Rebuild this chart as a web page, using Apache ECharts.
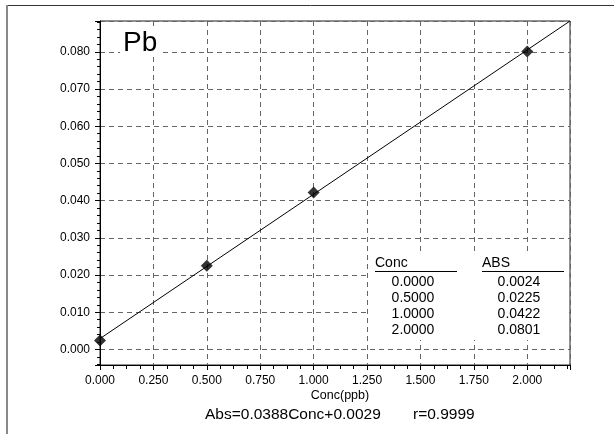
<!DOCTYPE html>
<html>
<head>
<meta charset="utf-8">
<script src="https://cdn.jsdelivr.net/npm/echarts@6/dist/echarts.min.js"></script>
<style>
html,body{margin:0;padding:0;background:#fff;}
#chart{width:614px;height:434px;}
</style>
</head>
<body>
<div id="chart"></div>
<script>
// ---- data ----
const concs = [0.0, 0.5, 1.0, 2.0];
const absVals = [0.0024, 0.0225, 0.0422, 0.0801];
const fitX = [0.0, 2.2];
const fitY = [0.0029, 0.0883];
const elementName = 'Pb';
const xAxisTitle = 'Conc(ppb)';
const equationText = 'Abs=0.0388Conc+0.0029';
const rText = 'r=0.9999';
const tableHeaders = ['Conc', 'ABS'];
const xMin = 0, xMax = 2.2, xStep = 0.25;
const yMin = -0.0042, yMax = 0.0883, yStep = 0.01;

const FONT = 'Liberation Sans, Arial, sans-serif';
const chart = echarts.init(document.getElementById('chart'), null, {renderer: 'canvas'});

const isMult = (v, s) => Math.abs(v / s - Math.round(v / s)) < 1e-6;

const tableGraphics = [];
const rowY0 = 282, rowDy = 16;
tableGraphics.push({type: 'rect', shape: {x: 370, y: 252, width: 199, height: 88}, style: {fill: '#fff'}, z: 50});
tableGraphics.push({type: 'text', x: 375, y: 263, style: {text: tableHeaders[0], font: '14px ' + FONT, fill: '#000', textVerticalAlign: 'middle'}, z: 51});
tableGraphics.push({type: 'text', x: 482, y: 263, style: {text: tableHeaders[1], font: '14px ' + FONT, fill: '#000', textVerticalAlign: 'middle'}, z: 51});
tableGraphics.push({type: 'line', shape: {x1: 375, y1: 271.5, x2: 457, y2: 271.5}, style: {stroke: '#000', lineWidth: 1}, z: 51});
tableGraphics.push({type: 'line', shape: {x1: 482, y1: 271.5, x2: 564, y2: 271.5}, style: {stroke: '#000', lineWidth: 1}, z: 51});
concs.forEach((c, i) => {
  tableGraphics.push({type: 'text', x: 413, y: rowY0 + i * rowDy, style: {text: c.toFixed(4), font: '14px ' + FONT, fill: '#000', textAlign: 'center', textVerticalAlign: 'middle'}, z: 51});
  tableGraphics.push({type: 'text', x: 519, y: rowY0 + i * rowDy, style: {text: absVals[i].toFixed(4), font: '14px ' + FONT, fill: '#000', textAlign: 'center', textVerticalAlign: 'middle'}, z: 51});
});

const option = {
  backgroundColor: '#fff',
  animation: false,
  grid: {left: 100, top: 21, width: 470, height: 344, show: true, borderColor: '#222', borderWidth: 1, backgroundColor: 'transparent', containLabel: false},
  title: {
    text: elementName, left: 120, top: 27, padding: [2, 3, 0, 3], backgroundColor: '#fff',
    textStyle: {fontSize: 28, fontWeight: 'normal', fontFamily: FONT, color: '#000'}, z: 20
  },
  xAxis: {
    type: 'value', min: xMin, max: xMax, interval: xStep,
    axisLine: {show: true, onZero: false, lineStyle: {color: '#000', width: 1}},
    axisTick: {show: true, inside: false, length: 5, lineStyle: {color: '#000'}},
    minorTick: {show: true, splitNumber: 4, length: 4, lineStyle: {color: '#000'}},
    axisLabel: {margin: 10, fontSize: 12, fontFamily: FONT, color: '#000', formatter: v => isMult(v, xStep) ? v.toFixed(3) : ''},
    splitLine: {show: true, lineStyle: {color: '#666', width: 1, type: [5, 4]}}
  },
  yAxis: {
    type: 'value', min: yMin, max: yMax, minInterval: yStep, maxInterval: yStep, splitNumber: 9,
    axisLine: {show: true, onZero: false, lineStyle: {color: '#000', width: 1}},
    axisTick: {show: true, inside: false, length: 5, lineStyle: {color: '#000'}},
    minorTick: {show: true, splitNumber: 5, length: 3, lineStyle: {color: '#000'}},
    axisLabel: {margin: 10, fontSize: 12, fontFamily: FONT, color: '#000', formatter: v => isMult(v, yStep) ? v.toFixed(3) : ''},
    splitLine: {show: true, lineStyle: {color: '#666', width: 1, type: [5, 4]}}
  },
  series: [
    {
      type: 'line', data: fitX.map((x, i) => [x, fitY[i]]), symbol: 'none',
      lineStyle: {color: '#000', width: 1}, z: 2, clip: true
    },
    {
      type: 'scatter', data: concs.map((c, i) => [c, absVals[i]]), symbol: 'diamond', symbolSize: 12,
      itemStyle: {color: '#000'}, z: 3
    }
  ],
  graphic: [
    {type: 'line', shape: {x1: 7, y1: 5.5, x2: 614, y2: 5.5}, style: {stroke: '#333', lineWidth: 1}},
    {type: 'line', shape: {x1: 7, y1: 5, x2: 7, y2: 434}, style: {stroke: '#888', lineWidth: 2}},
    {type: 'text', x: 340, y: 396, style: {text: xAxisTitle, font: '12.5px ' + FONT, fill: '#000', textAlign: 'center', textVerticalAlign: 'middle'}},
    {type: 'text', x: 205, y: 415, style: {text: equationText, font: '15.5px ' + FONT, fill: '#000', textVerticalAlign: 'middle'}},
    {type: 'text', x: 413, y: 415, style: {text: rText, font: '15.5px ' + FONT, fill: '#000', textVerticalAlign: 'middle'}}
  ].concat(tableGraphics)
};
chart.setOption(option);
</script>
</body>
</html>
